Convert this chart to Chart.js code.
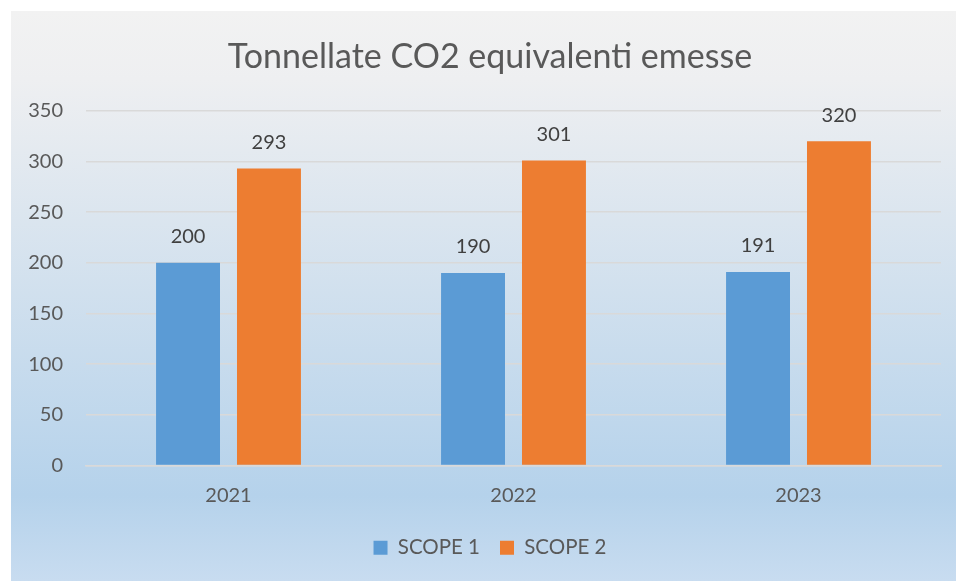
<!DOCTYPE html>
<html>
<head>
<meta charset="utf-8">
<script src="https://cdn.jsdelivr.net/npm/chart.js@4.4.1/dist/chart.umd.min.js"></script>
<style>
  html, body { margin: 0; padding: 0; background: #fff; overflow: hidden; }
  #wrap { width: 990px; height: 581px; position: relative; }
</style>
</head>
<body>
<div id="wrap"><canvas id="chartCanvas"></canvas></div>
<script>
const years = ["2021", "2022", "2023"];
const scope1 = [200, 190, 191];
const scope2 = [293, 301, 320];
const yTicks = [0, 50, 100, 150, 200, 250, 300, 350];

const FONT = "Lato, 'Open Sans', sans-serif";

// sfondo sfumato del riquadro
const bgPlugin = {
  id: "bg",
  beforeDraw(chart) {
    const ctx = chart.ctx;
    ctx.save();
    ctx.fillStyle = "#ffffff";
    ctx.fillRect(0, 0, chart.width, chart.height);
    const g = ctx.createLinearGradient(0, 11, 0, chart.height);
    g.addColorStop(0, "#f2f2f2");
    g.addColorStop(0.12, "#eeeff1");
    g.addColorStop(0.85, "#b5d2eb");
    g.addColorStop(1, "#c8dcf0");
    ctx.fillStyle = g;
    ctx.fillRect(11, 11, chart.width - 11, chart.height - 11);
    ctx.restore();
  }
};

// etichette dei valori sopra le barre
const valueLabels = {
  id: "valueLabels",
  afterDatasetsDraw(chart) {
    const ctx = chart.ctx;
    ctx.save();
    ctx.font = "20px " + FONT;
    ctx.fillStyle = "#404040";
    ctx.textAlign = "center";
    ctx.textBaseline = "middle";
    chart.data.datasets.forEach((ds, i) => {
      chart.getDatasetMeta(i).data.forEach((bar, j) => {
        ctx.fillText(ds.data[j], bar.x, bar.y - 26);
      });
    });
    ctx.restore();
  }
};

new Chart(document.getElementById("chartCanvas"), {
  type: "bar",
  data: {
    labels: years,
    datasets: [
      { label: "SCOPE 1", data: scope1, backgroundColor: "#5b9bd5" },
      { label: "SCOPE 2", data: scope2, backgroundColor: "#ed7d31" }
    ]
  },
  options: {
    responsive: true,
    maintainAspectRatio: false,
    animation: false,
    categoryPercentage: 0.568,
    barPercentage: 0.79,
    layout: { padding: { left: 11, right: 21, top: 11, bottom: 13 } },
    plugins: {
      title: {
        display: true,
        text: "Tonnellate CO2 equivalenti emesse",
        color: "#595959",
        font: { family: FONT, size: 34, weight: "normal" },
        padding: { top: 26, bottom: 33 }
      },
      legend: {
        position: "bottom",
        labels: {
          color: "#595959",
          font: { family: FONT, size: 20.5 },
          boxWidth: 14,
          boxHeight: 14,
          padding: 20
        }
      },
      tooltip: { enabled: false }
    },
    scales: {
      x: {
        grid: { display: false },
        border: { color: "#d9d9d9", width: 1.5 },
        ticks: { color: "#595959", font: { family: FONT, size: 20 }, padding: 10 }
      },
      y: {
        min: 0,
        max: 350,
        afterFit(scale) { scale.width = 75; },
        afterBuildTicks(scale) { scale.ticks = yTicks.map(v => ({ value: v })); },
        grid: { color: "#d9d9d9", lineWidth: 1.5, drawTicks: false },
        border: { display: false },
        ticks: { color: "#595959", font: { family: FONT, size: 20 }, padding: 23 }
      },
      // asse vuoto a destra: solo spazio
      yRight: {
        position: "right",
        min: 0,
        max: 350,
        afterFit(scale) { scale.width = 28; },
        grid: { display: false },
        border: { display: false },
        ticks: { display: false }
      }
    }
  },
  plugins: [bgPlugin, valueLabels]
});
</script>
</body>
</html>
